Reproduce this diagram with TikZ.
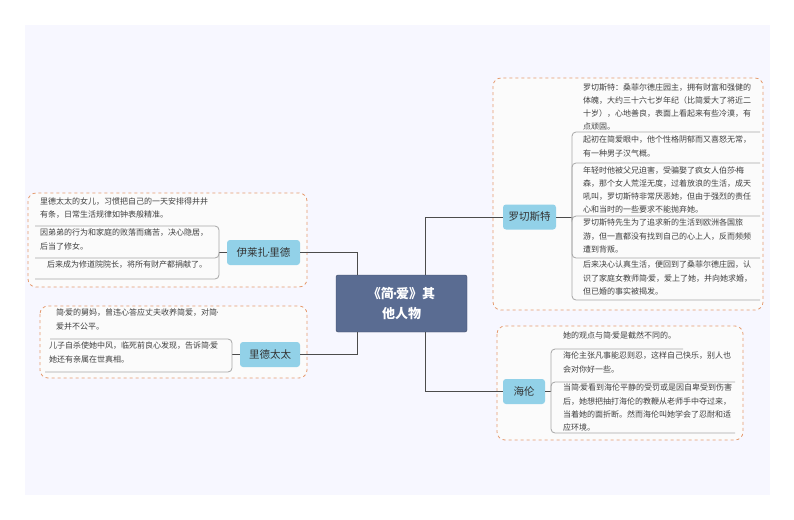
\documentclass[tikz,border=0pt]{standalone}
\usepackage{fontspec}
\setmainfont{Noto Sans CJK SC}
\newcommand{\dt}{{\fontspec{DejaVu Sans}\kern-0.1em·\kern-0.1em}}
\begin{document}
\begin{tikzpicture}[x=1pt,y=-1pt,
  br/.style={fill=brfill,rounded corners=3pt,minimum height=25pt,inner sep=3pt,font=\fontsize{10.5}{12}\selectfont,text=black!80},
  it/.style={font=\fontsize{8}{13.3}\selectfont,text=black!75,align=left,inner sep=0pt,anchor=north west},
  grp/.style={draw=dashc,dashed,rounded corners=8pt,line width=0.8pt,fill=white!97!gray},
  ln/.style={draw=gray!70,line width=0.8pt,rounded corners=4pt},
  mn/.style={draw=gray!60!black,line width=0.6pt}]
\definecolor{brfill}{HTML}{92D1E8}
\definecolor{dashc}{HTML}{E59A6E}
\definecolor{cen}{HTML}{5A6C92}
\useasboundingbox (0,0) rectangle (794,519);
\fill[white] (0,0) rectangle (794,519);
\fill[blue!3!white] (25,25) rectangle (770,495);
% groups
\draw[grp] (493,78) rectangle (763,310);
\draw[grp] (28,193) rectangle (307,287);
\draw[grp] (40,306) rectangle (307,378);
\draw[grp] (497,326) rectangle (743,440);
% center
\node[fill=cen,draw=cen!70!black,rounded corners=2pt,minimum width=131pt,minimum height=57pt,text=white,align=center,font=\fontsize{13}{20}\selectfont\bfseries] (c) at (401.5,303.5) {《简\dt 爱》其\\他人物};
% branches
\node[br,minimum width=53pt] (r) at (529.5,217) {罗切斯特};
\node[br,minimum width=73pt] (y) at (263.5,252.5) {伊莱扎\dt 里德};
\node[br,minimum width=60pt] (l) at (270,354.5) {里德太太};
\node[br,minimum width=42pt] (h) at (524,391.5) {海伦};
\coordinate (ct1) at (357,275); \coordinate (cb1) at (357,332);
\coordinate (ct2) at (425,275); \coordinate (cb2) at (425,332);
\draw[mn] (ct1) |- (y.east);
\draw[mn] (cb1) |- (l.east);
\draw[mn] (ct2) |- (r.west);
\draw[mn] (cb2) |- (h.west);
% Rochester items
\node[it] (r1) at (583,83) {罗切斯特：桑菲尔德庄园主，拥有财富和强健的\\体魄，大约三十六七岁年纪（比简爱大了将近二\\十岁），心地善良，表面上看起来有些冷漠，有\\点顽固。};
\node[it] (r2) at (583,136) {起初在简爱眼中，他个性格阴郁而又喜怒无常，\\有一种男子汉气概。};
\node[it] (r3) at (583,166) {年轻时他被父兄迫害，受骗娶了疯女人伯莎\dt 梅\\森，那个女人荒淫无度，过着放浪的生活，成天\\吼叫，罗切斯特非常厌恶她，但由于强烈的责任\\心和当时的一些要求不能抛弃她。};
\node[it] (r4) at (583,219) {罗切斯特先生为了追求新的生活到欧洲各国旅\\游，但一直都没有找到自己的心上人，反而频频\\遭到背叛。};
\node[it] (r5) at (583,261) {后来决心认真生活，便回到了桑菲尔德庄园，认\\识了家庭女教师简\dt 爱，爱上了她，并向她求婚，\\但已婚的事实被揭发。};
\coordinate (rj) at (572,217);
\draw[mn] (r.east) -- (rj);
\draw[ln] (rj) |- (760,132);
\draw[ln] (rj) |- (760,163);
\draw[ln] (rj) |- (760,216);
\draw[ln] (rj) |- (760,258);
\draw[ln] (rj) |- (760,300);
% Eliza items
\node[it] (y1) at (40,197) {里德太太的女儿，习惯把自己的一天安排得井井\\有条，日常生活规律如钟表般精准。};
\node[it] (y2) at (40,229) {因弟弟的行为和家庭的败落而痛苦，决心隐居，\\后当了修女。};
\node[it] (y3) at (47,261) {后来成为修道院院长，将所有财产都捐献了。};
\coordinate (yj) at (219,252.5);
\draw[mn] (y.west) -- (yj);
\draw[ln] (yj) |- (35,226);
\draw[ln] (yj) |- (35,258);
\draw[ln] (yj) |- (35,279);
% Mrs Reed items
\node[it] (l1) at (56,309) {简\dt 爱的舅妈，曾违心答应丈夫收养简爱，对简\dt \\爱并不公平。};
\node[it] (l2) at (49,342) {儿子自杀使她中风，临死前良心发现，告诉简\dt 爱\\她还有亲属在世真相。};
\coordinate (lj) at (232,354.5);
\draw[mn] (l.west) -- (lj);
\draw[ln] (lj) |- (50,339);
\draw[ln] (lj) |- (45,372);
% Helen items
\node[it] (h1) at (563,332) {她的观点与简\dt 爱是截然不同的。};
\node[it] (h2) at (563,352) {海伦主张凡事能忍则忍，这样自己快乐，别人也\\会对你好一些。};
\node[it] (h3) at (563,384) {当简\dt 爱看到海伦平静的受罚或是因自卑受到伤害\\后，她想把抽打海伦的教鞭从老师手中夺过来，\\当着她的面折断。然而海伦叫她学会了忍耐和适\\应环境。};
\coordinate (hj) at (551,391.5);
\draw[mn] (h.east) -- (hj);
\draw[ln] (hj) |- (683,349);
\draw[ln] (hj) |- (735,382);
\draw[ln] (hj) |- (735,433);
\end{tikzpicture}
\end{document}
